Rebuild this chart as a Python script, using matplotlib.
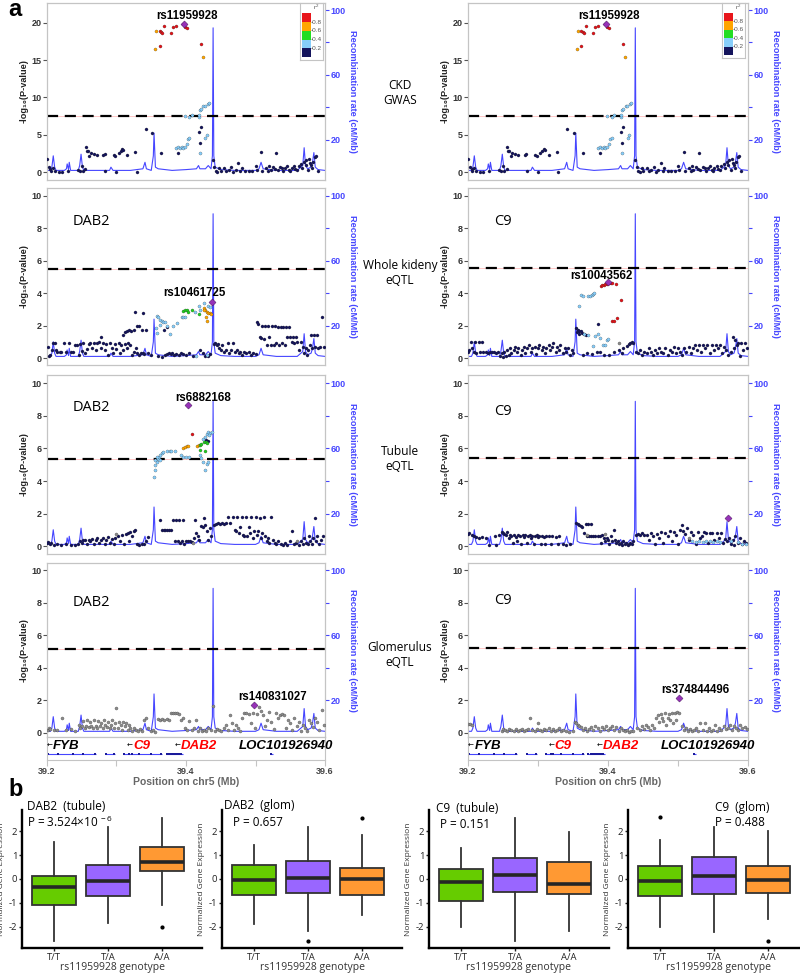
import numpy as np
import matplotlib.pyplot as plt

plt.rcParams['font.family'] = ['Liberation Sans', 'DejaVu Sans']
plt.rcParams['mathtext.default'] = 'regular'
plt.rcParams['axes.unicode_minus'] = False

# recombination rate (cM/Mb) along chr5, same in every panel
recomb = [(39.200, 1), (39.205, 1), (39.207, 3), (39.209, 10), (39.211, 3), (39.213, 1),
          (39.225, 1), (39.228, 2), (39.229, 5), (39.231, 1.5), (39.232, 6), (39.234, 1),
          (39.245, 1), (39.247, 4), (39.249, 11), (39.251, 3), (39.253, 1), (39.290, 1),
          (39.292, 3), (39.295, 1), (39.320, 1), (39.338, 2), (39.341, 6), (39.343, 2),
          (39.350, 1), (39.353, 10), (39.354, 24), (39.356, 3), (39.360, 2), (39.380, 1),
          (39.400, 1.5), (39.415, 2), (39.418, 4), (39.420, 2), (39.428, 2), (39.432, 4),
          (39.436, 2), (39.438, 10), (39.439, 89), (39.440, 10), (39.442, 3), (39.450, 1.5),
          (39.470, 1), (39.500, 1), (39.505, 2), (39.508, 6), (39.511, 2), (39.530, 1),
          (39.560, 1), (39.568, 4), (39.570, 15), (39.572, 4), (39.575, 2), (39.580, 3),
          (39.582, 6), (39.584, 12), (39.586, 3), (39.590, 1.5), (39.600, 1)]

# ---- CKD GWAS (same in both columns)
gwas_navy = [(39.200, 1.7), (39.203, 0.7), (39.205, 0.4), (39.206, 0.2), (39.208, 0.6), (39.211, 0.1),
             (39.217, 0.05), (39.222, 0.05), (39.230, 0.1), (39.245, 0.3), (39.247, 0.1), (39.250, 0.8),
             (39.252, 0.2), (39.255, 0.35), (39.256, 3.4), (39.257, 2.8), (39.259, 2.8), (39.261, 2.1),
             (39.263, 2.5), (39.267, 2.4), (39.272, 2.3), (39.281, 2.3), (39.283, 2.4), (39.284, 0.2),
             (39.296, 2.3), (39.298, 2.1), (39.300, 0.05), (39.303, 2.5), (39.306, 2.8), (39.308, 3.1),
             (39.310, 3.0), (39.315, 2.3), (39.327, 2.7), (39.329, 0.05), (39.342, 5.8), (39.351, 5.3),
             (39.364, 2.5), (39.388, 2.5), (39.418, 5.4), (39.420, 3.9), (39.422, 6.0), (39.439, 1.6),
             (39.441, 0.7), (39.443, 0.2), (39.445, 0.0), (39.448, 0.5), (39.450, 0.1), (39.455, 0.6),
             (39.458, 0.1), (39.462, 0.3), (39.465, 0.7), (39.468, 0.05), (39.472, 0.3), (39.475, 1.2),
             (39.478, 0.2), (39.480, 0.5), (39.485, 0.2), (39.490, 0.2), (39.495, 0.1), (39.500, 0.8),
             (39.502, 0.3), (39.508, 2.7), (39.510, 0.2), (39.515, 0.6), (39.518, 0.2), (39.520, 0.8),
             (39.522, 0.3), (39.525, 0.7), (39.528, 0.4), (39.530, 2.6), (39.532, 0.3), (39.535, 0.7),
             (39.538, 0.5), (39.540, 0.2), (39.543, 0.6), (39.545, 0.8), (39.548, 0.3), (39.550, 0.2),
             (39.552, 0.6), (39.555, 0.8), (39.557, 0.4), (39.560, 0.3), (39.562, 0.8), (39.565, 1.1),
             (39.567, 0.5), (39.570, 1.4), (39.572, 0.9), (39.573, 1.6), (39.575, 0.3), (39.577, 1.8),
             (39.578, 1.2), (39.580, 1.0), (39.582, 0.5), (39.583, 1.4), (39.585, 2.0), (39.587, 2.2),
             (39.590, 0.2)]
gwas_lblue = [(39.386, 3.2), (39.389, 3.3), (39.391, 3.2), (39.394, 3.3), (39.396, 3.2), (39.399, 3.3),
              (39.401, 3.7), (39.403, 4.4), (39.405, 4.6), (39.398, 7.5), (39.405, 7.4), (39.409, 7.7),
              (39.418, 7.4), (39.419, 7.7), (39.420, 8.3), (39.422, 8.5), (39.425, 8.8), (39.427, 8.9),
              (39.431, 9.1), (39.433, 9.3), (39.420, 2.6), (39.428, 4.5), (39.430, 5.0)]
gwas_orange = [(39.356, 16.5), (39.357, 18.9), (39.424, 15.4)]
gwas_red = [(39.362, 16.9), (39.362, 18.9), (39.364, 18.8), (39.366, 18.6), (39.369, 19.55), (39.379, 18.7),
            (39.382, 19.5), (39.385, 19.6), (39.395, 19.9), (39.399, 19.5), (39.401, 19.3), (39.422, 17.2)]
gwas_lead = (39.397, 19.8)

# ---- whole kidney eQTL, DAB2
kd_navy = [(39.201, 0.7), (39.203, 0.15), (39.205, 0.2), (39.207, 0.5), (39.209, 0.9), (39.211, 0.95),
           (39.213, 0.5), (39.215, 0.4), (39.218, 0.4), (39.220, 0.35), (39.225, 0.9), (39.228, 0.35),
           (39.232, 0.9), (39.235, 0.35), (39.238, 0.4), (39.240, 0.8), (39.243, 0.8), (39.246, 0.2),
           (39.248, 0.85), (39.250, 0.45), (39.252, 0.9), (39.255, 0.3), (39.258, 0.55), (39.260, 0.85),
           (39.262, 0.9), (39.265, 0.6), (39.268, 0.9), (39.270, 0.5), (39.272, 0.95), (39.275, 1.0),
           (39.277, 0.6), (39.278, 1.3), (39.280, 0.9), (39.283, 0.5), (39.285, 0.85), (39.288, 0.2),
           (39.290, 0.95), (39.293, 0.6), (39.295, 0.3), (39.298, 0.85), (39.300, 0.55), (39.303, 0.9),
           (39.305, 0.3), (39.307, 0.8), (39.310, 0.5), (39.312, 0.85), (39.315, 0.6), (39.317, 0.9),
           (39.320, 0.8), (39.322, 0.2), (39.325, 0.4), (39.328, 0.6), (39.330, 0.3), (39.333, 0.2),
           (39.335, 0.3), (39.338, 0.3), (39.340, 0.25), (39.345, 0.3), (39.350, 0.2),
           (39.309, 1.45), (39.312, 1.6), (39.315, 1.65), (39.318, 1.7), (39.321, 1.65), (39.325, 1.7),
           (39.326, 2.85), (39.330, 2.0), (39.333, 1.95), (39.336, 1.7), (39.338, 2.75), (39.342, 1.7),
           (39.360, 0.1), (39.365, 0.05), (39.370, 0.2), (39.372, 0.25), (39.375, 0.3), (39.378, 0.25),
           (39.380, 0.3), (39.383, 0.2), (39.386, 0.25), (39.390, 0.2), (39.393, 0.3), (39.396, 0.25),
           (39.400, 0.2), (39.405, 0.3), (39.410, 0.1), (39.420, 0.5), (39.425, 0.3), (39.428, 0.1),
           (39.431, 0.15), (39.434, 0.25), (39.372, 1.9), (39.368, 1.75),
           (39.440, 0.85), (39.442, 0.9), (39.444, 0.8), (39.446, 0.85), (39.448, 0.6), (39.450, 0.5),
           (39.452, 0.8), (39.455, 0.4), (39.458, 0.5), (39.460, 0.9), (39.462, 0.3), (39.465, 0.5),
           (39.468, 0.9), (39.470, 0.35), (39.473, 0.5), (39.476, 0.3), (39.478, 0.4), (39.480, 0.2),
           (39.483, 0.35), (39.486, 0.3), (39.490, 0.4), (39.493, 0.2), (39.496, 0.3), (39.500, 0.25),
           (39.502, 2.2), (39.504, 2.1), (39.506, 1.3), (39.508, 1.25), (39.510, 2.0), (39.512, 1.2),
           (39.514, 2.0), (39.516, 0.8), (39.518, 2.0), (39.520, 1.3), (39.522, 0.8), (39.524, 2.0),
           (39.526, 0.8), (39.528, 2.0), (39.530, 0.9), (39.532, 1.9), (39.534, 0.8), (39.536, 1.9),
           (39.538, 0.9), (39.540, 1.9), (39.542, 0.8), (39.544, 1.9), (39.546, 1.3), (39.548, 1.9),
           (39.550, 1.3), (39.552, 1.0), (39.554, 1.3), (39.556, 0.9), (39.558, 1.3), (39.560, 1.0),
           (39.562, 0.5), (39.565, 1.0), (39.568, 0.7), (39.570, 0.3), (39.572, 0.6), (39.574, 0.2),
           (39.576, 0.5), (39.578, 0.8), (39.580, 1.4), (39.582, 0.6), (39.584, 1.4), (39.586, 0.7),
           (39.588, 1.4), (39.590, 0.6), (39.593, 0.7), (39.595, 2.55), (39.598, 0.7)]
kd_lblue = [(39.358, 2.61), (39.360, 2.53), (39.362, 2.36), (39.365, 2.26), (39.367, 2.2), (39.370, 2.2),
            (39.357, 1.85), (39.358, 1.54), (39.363, 2.05), (39.372, 1.95), (39.377, 1.5), (39.382, 1.95),
            (39.387, 2.16), (39.394, 2.53), (39.395, 2.53), (39.398, 2.53), (39.413, 2.87), (39.419, 3.18),
            (39.426, 3.39), (39.432, 3.18), (39.434, 3.12), (39.420, 2.94), (39.415, 0.1), (39.430, 0.2)]
kd_green = [(39.396, 2.92), (39.398, 2.94), (39.401, 2.94), (39.403, 2.87), (39.408, 2.94), (39.418, 2.7)]
kd_orange = [(39.426, 3.08), (39.428, 2.98), (39.430, 2.87), (39.432, 2.77), (39.429, 2.52), (39.430, 2.26),
             (39.434, 2.77), (39.436, 2.73), (39.426, 2.94)]
kd_lead = (39.437, 3.43)

# ---- whole kidney eQTL, C9
kc_navy = [(39.200, 0.4), (39.202, 0.5), (39.204, 1.0), (39.206, 0.6), (39.208, 0.4), (39.210, 1.0),
           (39.212, 0.3), (39.215, 1.0), (39.217, 0.4), (39.220, 1.0), (39.222, 0.35), (39.225, 0.4),
           (39.228, 0.3), (39.231, 0.4), (39.234, 0.35), (39.237, 0.4), (39.240, 0.3), (39.243, 0.4),
           (39.246, 0.1), (39.248, 0.3), (39.250, 0.05), (39.252, 0.4), (39.254, 0.1), (39.256, 0.5),
           (39.258, 0.2), (39.260, 0.6), (39.262, 0.3), (39.265, 0.5), (39.267, 0.7), (39.270, 0.35),
           (39.272, 0.6), (39.275, 0.2), (39.277, 0.5), (39.280, 0.7), (39.282, 0.3), (39.285, 0.6),
           (39.287, 0.8), (39.290, 0.4), (39.292, 0.6), (39.295, 0.7), (39.297, 0.25), (39.300, 0.6),
           (39.302, 0.8), (39.305, 0.5), (39.307, 0.7), (39.310, 0.3), (39.312, 0.6), (39.315, 0.8),
           (39.317, 0.5), (39.320, 0.7), (39.322, 0.9), (39.325, 0.4), (39.327, 0.7), (39.330, 0.5),
           (39.332, 0.8), (39.335, 0.3), (39.338, 0.6), (39.340, 0.4), (39.343, 0.6), (39.345, 0.2),
           (39.348, 0.5), (39.350, 0.3),
           (39.355, 1.84), (39.357, 1.74), (39.359, 1.68), (39.361, 1.64), (39.363, 1.54), (39.366, 1.48),
           (39.368, 1.43), (39.356, 1.6), (39.358, 1.5), (39.386, 2.09), (39.364, 0.2), (39.370, 0.3),
           (39.377, 0.25), (39.384, 0.35), (39.389, 0.4), (39.394, 0.2), (39.401, 0.2), (39.408, 0.4),
           (39.415, 0.5), (39.422, 0.6), (39.427, 0.75), (39.430, 0.85), (39.432, 0.95), (39.434, 1.0),
           (39.436, 0.9), (39.420, 0.3),
           (39.440, 0.4), (39.443, 0.3), (39.446, 0.5), (39.449, 0.2), (39.452, 0.4), (39.455, 0.3),
           (39.458, 0.6), (39.461, 0.4), (39.464, 0.2), (39.467, 0.5), (39.470, 0.3), (39.473, 0.6),
           (39.476, 0.4), (39.479, 0.3), (39.482, 0.6), (39.485, 0.2), (39.488, 0.5), (39.491, 0.4),
           (39.494, 0.7), (39.497, 0.3), (39.500, 0.6), (39.503, 0.4), (39.506, 0.2), (39.509, 0.6),
           (39.512, 0.4), (39.515, 0.7), (39.518, 0.3), (39.521, 0.6), (39.524, 0.8), (39.527, 0.5),
           (39.530, 0.8), (39.533, 0.4), (39.536, 0.8), (39.539, 0.6), (39.542, 0.8), (39.545, 0.3),
           (39.548, 0.8), (39.551, 0.5), (39.554, 0.8), (39.557, 0.6), (39.560, 0.8), (39.563, 0.3),
           (39.566, 0.7), (39.569, 0.5), (39.572, 0.2), (39.575, 0.4), (39.578, 1.3), (39.580, 0.6),
           (39.582, 1.1), (39.584, 0.8), (39.586, 0.9), (39.588, 0.1), (39.590, 0.9), (39.593, 0.5),
           (39.596, 0.9), (39.599, 0.6)]
kc_lblue = [(39.359, 3.22), (39.361, 3.89), (39.364, 3.83), (39.371, 3.83), (39.374, 3.83), (39.377, 3.89),
            (39.378, 3.95), (39.380, 4.04), (39.371, 1.43), (39.378, 0.76), (39.381, 1.39), (39.385, 1.48),
            (39.388, 1.23), (39.393, 0.82), (39.396, 0.82), (39.398, 1.09), (39.400, 1.15), (39.366, 1.5)]
kc_red = [(39.390, 4.45), (39.392, 4.49), (39.394, 4.53), (39.396, 4.57), (39.398, 4.59), (39.402, 4.61),
          (39.404, 4.61), (39.406, 4.61), (39.412, 4.59), (39.418, 3.6), (39.405, 2.3), (39.408, 2.3),
          (39.413, 2.5)]
kc_gray = [(39.416, 0.95)]
kc_lead = (39.400, 4.67)

# ---- tubule eQTL, DAB2
td_navy = [(39.200, 0.2), (39.202, 0.25), (39.204, 0.1), (39.206, 0.2), (39.210, 0.05), (39.215, 0.1),
           (39.220, 0.05), (39.228, 0.1), (39.235, 0.05), (39.240, 0.05), (39.245, 0.1), (39.248, 0.3),
           (39.250, 0.2), (39.252, 0.35), (39.255, 0.4), (39.257, 0.15), (39.260, 0.4), (39.262, 0.3),
           (39.265, 0.45), (39.268, 0.1), (39.270, 0.35), (39.272, 0.5), (39.275, 0.2), (39.278, 0.4),
           (39.280, 0.5), (39.283, 0.1), (39.285, 0.4), (39.288, 0.55), (39.290, 0.2), (39.293, 0.45),
           (39.296, 0.1), (39.298, 0.5), (39.302, 0.6), (39.305, 0.3), (39.308, 0.7), (39.311, 0.1),
           (39.313, 0.75), (39.316, 0.8), (39.318, 0.3), (39.320, 0.85), (39.322, 0.6), (39.325, 0.95),
           (39.327, 1.0), (39.330, 0.1), (39.333, 0.05), (39.336, 0.1), (39.340, 0.1), (39.343, 0.3),
           (39.346, 0.55),
           (39.363, 1.6), (39.366, 1.0), (39.368, 1.0), (39.370, 1.0), (39.373, 1.0), (39.376, 1.0),
           (39.379, 1.0), (39.381, 1.6), (39.385, 1.6), (39.390, 1.6), (39.395, 1.6), (39.384, 0.3),
           (39.388, 0.3), (39.391, 0.2), (39.394, 0.3), (39.397, 0.1), (39.400, 0.3), (39.403, 0.3),
           (39.406, 0.3), (39.409, 0.25), (39.412, 0.5), (39.413, 1.6), (39.415, 0.8), (39.417, 0.6),
           (39.419, 0.35), (39.421, 1.25), (39.424, 1.2), (39.426, 1.7), (39.428, 1.3), (39.430, 0.9),
           (39.432, 0.4), (39.434, 1.1), (39.436, 0.6), (39.429, 6.5), (39.431, 6.46),
           (39.440, 1.3), (39.443, 1.35), (39.446, 1.4), (39.449, 1.35), (39.452, 1.4), (39.455, 1.35),
           (39.458, 1.4), (39.461, 1.8), (39.464, 1.4), (39.467, 1.8), (39.470, 1.0), (39.472, 0.9),
           (39.474, 1.8), (39.476, 0.8), (39.478, 1.2), (39.480, 1.8), (39.482, 0.7), (39.484, 0.6),
           (39.486, 1.8), (39.488, 0.6), (39.490, 1.2), (39.492, 0.8), (39.494, 1.8), (39.496, 0.5),
           (39.498, 0.9), (39.500, 1.8), (39.502, 0.7), (39.504, 0.9), (39.506, 1.7), (39.508, 0.5),
           (39.510, 0.8), (39.512, 1.8), (39.514, 0.6), (39.516, 0.3), (39.518, 0.5), (39.520, 0.2),
           (39.523, 1.8), (39.525, 0.4), (39.528, 0.2), (39.530, 0.1), (39.533, 0.3), (39.536, 0.1),
           (39.540, 0.05), (39.543, 0.2), (39.546, 0.05), (39.549, 0.3), (39.552, 0.9), (39.555, 0.1),
           (39.558, 0.2), (39.562, 0.05), (39.565, 0.3), (39.568, 0.1), (39.570, 0.5), (39.572, 0.2),
           (39.575, 0.1), (39.577, 0.6), (39.579, 0.3), (39.581, 0.1), (39.583, 0.5), (39.585, 1.7),
           (39.587, 0.3), (39.589, 0.6), (39.591, 0.1), (39.594, 0.4), (39.597, 0.6)]
td_lblue = [(39.354, 4.25), (39.355, 4.66), (39.356, 4.96), (39.358, 5.17), (39.360, 5.37), (39.361, 5.48),
            (39.363, 5.58), (39.365, 5.72), (39.367, 5.78), (39.372, 5.83), (39.377, 5.83), (39.379, 5.83),
            (39.384, 5.87), (39.393, 5.58), (39.396, 5.48), (39.400, 5.48), (39.405, 5.48), (39.420, 5.58),
            (39.422, 5.42), (39.424, 5.17), (39.427, 4.70), (39.430, 5.07), (39.432, 5.17), (39.430, 6.91),
            (39.432, 7.02), (39.434, 6.97), (39.437, 7.02), (39.433, 6.81), (39.425, 6.6), (39.427, 6.7),
            (39.356, 5.3), (39.358, 5.5), (39.362, 5.3)]
td_green = [(39.420, 6.2), (39.422, 6.3), (39.426, 6.38), (39.429, 6.4), (39.430, 6.36), (39.420, 5.93),
            (39.428, 5.85)]
td_orange = [(39.396, 6.05), (39.398, 6.09), (39.401, 6.13), (39.403, 6.15), (39.416, 6.15), (39.419, 6.24)]
td_red = [(39.408, 6.9)]
td_gray = [(39.300, 0.75), (39.410, 0.2), (39.560, 0.3)]
td_lead = (39.403, 8.66)

# ---- tubule eQTL, C9
tc_navy = [(39.200, 0.75), (39.202, 0.8), (39.205, 0.7), (39.208, 0.6), (39.212, 0.55), (39.215, 0.5),
           (39.220, 0.55), (39.225, 0.5), (39.230, 0.05), (39.238, 0.6), (39.240, 0.05), (39.245, 0.7),
           (39.248, 0.85), (39.250, 0.8), (39.252, 0.75), (39.254, 0.7), (39.256, 0.85), (39.258, 0.5),
           (39.260, 0.7), (39.262, 0.6), (39.264, 0.2), (39.266, 0.7), (39.268, 0.55), (39.270, 0.3),
           (39.272, 0.65), (39.274, 0.6), (39.276, 0.15), (39.278, 0.7), (39.280, 0.55), (39.282, 0.65),
           (39.284, 0.2), (39.286, 0.6), (39.288, 0.7), (39.290, 0.5), (39.292, 0.6), (39.294, 0.15),
           (39.296, 0.6), (39.298, 0.7), (39.300, 0.55), (39.302, 0.6), (39.304, 0.1), (39.306, 0.6),
           (39.308, 0.55), (39.310, 0.1), (39.312, 0.6), (39.315, 0.6), (39.318, 0.1), (39.320, 0.6),
           (39.325, 0.55), (39.328, 0.1), (39.330, 0.6), (39.335, 0.1), (39.340, 0.05), (39.345, 0.1),
           (39.355, 1.4), (39.357, 1.35), (39.359, 1.3), (39.361, 1.25), (39.363, 1.2), (39.365, 0.8),
           (39.368, 1.35), (39.372, 1.35), (39.376, 1.35), (39.370, 0.6), (39.373, 0.6), (39.376, 0.6),
           (39.379, 0.6), (39.382, 0.6), (39.385, 0.6), (39.388, 0.6), (39.390, 0.2), (39.392, 0.7),
           (39.394, 0.5), (39.396, 0.3), (39.398, 0.5), (39.400, 0.35), (39.402, 0.1), (39.404, 0.6),
           (39.406, 0.3), (39.408, 1.0), (39.410, 0.4), (39.412, 0.2), (39.414, 0.3), (39.416, 0.15),
           (39.418, 0.2), (39.420, 0.05), (39.422, 0.3), (39.424, 0.1), (39.426, 0.2), (39.428, 0.05),
           (39.430, 0.1), (39.432, 0.2), (39.434, 0.1), (39.436, 0.3),
           (39.440, 0.7), (39.443, 0.75), (39.446, 0.7), (39.449, 0.8), (39.452, 0.65), (39.455, 0.7),
           (39.458, 0.4), (39.461, 0.8), (39.464, 0.6), (39.467, 0.1), (39.470, 0.75), (39.473, 0.5),
           (39.476, 0.85), (39.479, 0.2), (39.482, 0.8), (39.485, 0.6), (39.488, 0.9), (39.491, 0.3),
           (39.494, 0.85), (39.497, 0.7), (39.500, 0.1), (39.503, 1.0), (39.505, 1.3), (39.507, 0.9),
           (39.510, 0.75), (39.513, 1.1), (39.516, 0.4), (39.519, 0.85), (39.522, 0.7), (39.525, 0.1),
           (39.528, 0.85), (39.531, 0.5), (39.534, 0.6), (39.537, 0.85), (39.540, 0.8), (39.543, 0.2),
           (39.546, 0.8), (39.549, 0.8), (39.552, 0.4), (39.555, 0.8), (39.558, 0.5), (39.561, 0.8),
           (39.564, 0.2), (39.567, 0.45), (39.570, 0.3), (39.573, 0.5), (39.576, 0.1), (39.578, 0.4),
           (39.580, 0.05), (39.582, 0.6), (39.585, 0.2), (39.588, 0.5), (39.591, 0.1), (39.594, 0.3),
           (39.597, 0.2)]
tc_lblue = [(39.520, 0.3), (39.525, 0.25), (39.530, 0.3), (39.535, 0.25), (39.540, 0.3), (39.545, 0.3),
            (39.550, 0.25), (39.555, 0.3), (39.560, 0.25), (39.575, 0.3), (39.585, 0.25), (39.592, 0.1),
            (39.597, 0.15)]
tc_gray = [(39.370, 0.7), (39.395, 0.75), (39.515, 0.5)]
tc_lead = (39.571, 1.75)

# ---- glomerulus eQTL, DAB2 (no LD information: grey)
gd_gray = [(39.201, 0.2), (39.203, 0.3), (39.205, 0.25), (39.210, 0.2), (39.215, 0.2), (39.221, 0.9),
           (39.228, 0.2), (39.235, 0.25), (39.240, 0.1), (39.246, 0.5), (39.248, 0.3), (39.250, 0.4),
           (39.252, 0.75), (39.254, 0.3), (39.256, 0.45), (39.258, 0.8), (39.260, 0.35), (39.262, 0.7),
           (39.264, 0.4), (39.266, 0.3), (39.268, 0.8), (39.270, 0.45), (39.272, 0.3), (39.274, 0.75),
           (39.276, 0.4), (39.278, 0.6), (39.280, 0.3), (39.282, 0.8), (39.284, 0.5), (39.286, 0.35),
           (39.288, 0.7), (39.290, 0.3), (39.292, 0.5), (39.294, 0.8), (39.296, 0.3), (39.298, 0.6),
           (39.300, 1.55), (39.302, 0.3), (39.304, 0.7), (39.306, 0.5), (39.308, 0.2), (39.310, 0.7),
           (39.312, 0.4), (39.314, 0.6), (39.316, 0.2), (39.318, 0.5), (39.320, 0.3), (39.322, 0.1),
           (39.325, 0.3), (39.328, 0.2), (39.331, 0.1), (39.334, 0.25), (39.337, 0.1), (39.340, 0.8),
           (39.342, 0.9), (39.345, 0.3), (39.350, 0.1), (39.353, 0.2), (39.356, 0.05), (39.360, 0.85),
           (39.363, 0.8), (39.366, 0.85), (39.369, 0.8), (39.372, 0.85), (39.375, 0.8), (39.378, 1.2),
           (39.381, 1.2), (39.384, 1.2), (39.387, 1.2), (39.390, 1.15), (39.393, 0.8), (39.396, 0.9),
           (39.399, 0.3), (39.402, 0.2), (39.405, 0.75), (39.408, 0.2), (39.411, 0.3), (39.414, 0.8),
           (39.417, 0.1), (39.420, 0.3), (39.423, 0.1), (39.426, 0.2), (39.429, 0.15), (39.432, 0.3),
           (39.436, 0.2), (39.439, 1.65),
           (39.442, 0.1), (39.445, 0.25), (39.448, 0.2), (39.451, 0.1), (39.454, 0.3), (39.457, 0.5),
           (39.460, 0.2), (39.463, 1.1), (39.466, 0.6), (39.469, 0.2), (39.472, 0.5), (39.475, 0.3),
           (39.478, 0.1), (39.481, 0.9), (39.484, 1.2), (39.487, 1.2), (39.490, 1.15), (39.493, 0.6),
           (39.496, 1.2), (39.499, 0.3), (39.502, 1.15), (39.505, 1.6), (39.508, 1.35), (39.511, 1.1),
           (39.514, 0.4), (39.517, 0.8), (39.520, 1.3), (39.523, 0.7), (39.526, 0.25), (39.529, 1.2),
           (39.532, 0.9), (39.535, 1.1), (39.538, 1.15), (39.541, 1.1), (39.544, 0.3), (39.547, 0.8),
           (39.550, 0.6), (39.553, 0.2), (39.556, 0.9), (39.559, 0.4), (39.562, 0.7), (39.565, 0.1),
           (39.568, 0.5), (39.571, 0.3), (39.574, 0.15), (39.577, 0.8), (39.580, 0.6), (39.583, 0.35),
           (39.586, 0.9), (39.589, 0.7), (39.592, 0.2), (39.595, 1.4), (39.598, 0.5)]
gd_lead = (39.498, 1.74)

# ---- glomerulus eQTL, C9
gc_gray = [(39.200, 0.55), (39.203, 0.55), (39.206, 0.5), (39.248, 0.15), (39.250, 0.25), (39.253, 0.2),
           (39.256, 0.1), (39.259, 0.25), (39.262, 0.2), (39.265, 0.15), (39.268, 0.25), (39.271, 0.1),
           (39.274, 0.2), (39.277, 0.25), (39.280, 0.1), (39.283, 0.2), (39.286, 0.25), (39.289, 0.95),
           (39.292, 0.2), (39.295, 0.15), (39.298, 0.25), (39.300, 0.6), (39.303, 0.2), (39.306, 0.1),
           (39.309, 0.25), (39.312, 0.2), (39.315, 0.3), (39.318, 0.15), (39.321, 0.25), (39.324, 0.1),
           (39.327, 0.2), (39.330, 0.3), (39.333, 0.15), (39.336, 0.2), (39.340, 0.1), (39.344, 0.05),
           (39.350, 0.1), (39.353, 0.65), (39.355, 0.6), (39.357, 0.5), (39.359, 0.45), (39.361, 0.35),
           (39.364, 0.2), (39.367, 0.3), (39.370, 0.1), (39.373, 0.25), (39.376, 0.35), (39.379, 0.2),
           (39.382, 0.4), (39.385, 0.3), (39.388, 0.15), (39.391, 0.35), (39.394, 0.25), (39.397, 0.4),
           (39.400, 0.2), (39.403, 0.3), (39.406, 0.45), (39.409, 0.2), (39.412, 0.35), (39.415, 0.1),
           (39.418, 0.3), (39.421, 0.2), (39.424, 0.1), (39.427, 0.2), (39.430, 0.05), (39.433, 0.15),
           (39.436, 0.1),
           (39.442, 0.3), (39.445, 0.2), (39.448, 0.4), (39.451, 0.25), (39.454, 0.5), (39.457, 0.35),
           (39.460, 0.2), (39.463, 0.5), (39.466, 0.3), (39.469, 0.9), (39.471, 1.1), (39.473, 0.7),
           (39.475, 1.15), (39.477, 0.9), (39.479, 0.75), (39.481, 1.2), (39.483, 0.5), (39.485, 0.9),
           (39.487, 1.15), (39.489, 0.8), (39.491, 1.2), (39.493, 0.6), (39.495, 1.25), (39.497, 0.8),
           (39.499, 1.3), (39.502, 1.2), (39.505, 0.4), (39.508, 0.2), (39.511, 0.3), (39.514, 0.15),
           (39.517, 0.25), (39.520, 0.1), (39.523, 0.2), (39.526, 0.3), (39.529, 0.15), (39.532, 0.6),
           (39.535, 0.2), (39.538, 0.6), (39.541, 0.15), (39.544, 0.3), (39.547, 0.1), (39.550, 0.2),
           (39.553, 0.5), (39.556, 0.15), (39.559, 0.3), (39.562, 0.2), (39.565, 0.4), (39.568, 0.25),
           (39.571, 0.3), (39.574, 0.5), (39.577, 0.2), (39.580, 0.4), (39.583, 0.3), (39.586, 0.2),
           (39.589, 0.5), (39.592, 0.3), (39.595, 0.35), (39.598, 0.25)]
gc_lead = (39.501, 2.14)

# genes in the region
gene_names = ['FYB', 'C9', 'DAB2', 'LOC101926940']
gene_label_x = [39.209, 39.324, 39.393, 39.476]
gene_colors = ['black', 'red', 'red', 'black']
gene_arrow = [True, True, True, False]
gene_spans = [(39.200, 39.270), (39.284, 39.298), (39.310, 39.365), (39.371, 39.395), (39.521, 39.525)]
gene_exons = [39.201, 39.216, 39.237, 39.252, 39.269, 39.285, 39.297, 39.311, 39.318, 39.322, 39.333,
              39.350, 39.364, 39.372, 39.375, 39.378, 39.381, 39.384, 39.387, 39.390, 39.393, 39.523]

# r2 legend
r2_edges = [0.0, 0.2, 0.4, 0.6, 0.8]
r2_colors = ['#14145c', '#87cefa', '#22dd22', '#ffa500', '#e8161b']

# boxplots: (whisker low, Q1, median, Q3, whisker high) for T/T, T/A, A/A
genotypes = ['T/T', 'T/A', 'A/A']
dab2_tub = [(-2.6, -1.08, -0.33, 0.12, 1.57), (-1.86, -0.72, -0.08, 0.6, 2.17), (-1.1, 0.32, 0.73, 1.33, 2.58)]
dab2_tub_out = [[], [], [-2.02]]
dab2_glom = [(-1.88, -0.69, -0.06, 0.58, 1.44), (-2.2, -0.58, 0.03, 0.76, 2.17), (-1.53, -0.69, 0.0, 0.46, 1.83)]
dab2_glom_out = [[], [-2.6], [2.58]]
c9_tub = [(-2.0, -0.93, -0.14, 0.42, 1.3), (-2.6, -0.53, 0.15, 0.9, 2.58), (-2.2, -0.64, -0.19, 0.73, 1.97)]
c9_tub_out = [[], [], []]
c9_glom = [(-2.0, -0.7, -0.1, 0.55, 1.63), (-2.22, -0.62, 0.11, 0.93, 2.2), (-1.7, -0.58, -0.03, 0.55, 2.0)]
c9_glom_out = [[2.6], [], [-2.6]]

BLUE = '#4646ff'
FRAME = '#c4c4c4'
LD = {'navy': '#14145c', 'lblue': '#87cefa', 'green': '#22cc22', 'orange': '#ffa500',
      'red': '#e0161b', 'gray': '#8c8c8c'}
BOX_COLORS = ['#66cc00', '#9966ff', '#ff9933']
OPEN = ['Open Sans', 'DejaVu Sans']

W, H = 800, 976
fig = plt.figure(figsize=(8, 9.76), dpi=100)


def px(x0, y0, x1, y1):
    return [x0 / W, 1 - y1 / H, (x1 - x0) / W, (y1 - y0) / H]


COLS = [(47, 325), (468, 748)]
# top, bottom, ymin, ymax, recomb scale, ticks
ROWS = [(3, 180, -1.07, 22.68, 4.6, [0, 5, 10, 15, 20]),
        (188, 365, -0.43, 10.49, 10, [0, 2, 4, 6, 8, 10]),
        (375, 554, -0.49, 10.52, 10, [0, 2, 4, 6, 8, 10]),
        (563, 737, -0.25, 10.46, 10, [0, 2, 4, 6, 8, 10])]


def locus(col, row, groups, lead, lead_txt, txt_xy, sig, gene=None, gene_y=None):
    x0, x1 = COLS[col]
    y0, y1, ymin, ymax, scale, ticks = ROWS[row]
    ax = fig.add_axes(px(x0, y0, x1, y1))
    ax2 = ax.twinx()
    rx, ry = np.array(recomb).T
    ax2.plot(rx, ry, color=BLUE, lw=0.8)
    ax2.set_ylim(ymin * scale, ymax * scale)
    ax2.set_yticks([20, 40, 60, 80, 100])
    ax2.set_yticklabels(['20', '', '60', '', '100'])
    ax2.tick_params(axis='y', colors=BLUE, labelsize=6.5, length=3, pad=1)
    for t in ax2.get_yticklabels():
        t.set_fontweight('bold')
    ax2.set_ylabel('Recombination rate (cM/Mb)', rotation=270, color=BLUE, fontsize=6.6,
                   fontweight='bold', labelpad=8)
    ax.set_zorder(ax2.get_zorder() + 1)
    ax.patch.set_visible(False)

    ax.axhline(sig, color='#ff8080', lw=0.5, alpha=0.6, zorder=1)
    ax.axhline(sig, color='black', lw=1.6, ls=(0, (5, 3)), zorder=2)
    for name, pts in groups:
        x, y = np.array(pts).T
        ax.scatter(x, y, s=5, color=LD[name], edgecolors='#202020', linewidths=0.15, zorder=3)
    ax.scatter([lead[0]], [lead[1]], marker='D', s=13, color='#9632b8', edgecolors='#3c0a50',
               linewidths=0.3, zorder=4)
    if lead_txt:
        ax.text(txt_xy[0], txt_xy[1], lead_txt, ha='center', va='center', fontsize=8.3,
                fontweight='bold', zorder=5)
    if gene:
        ax.text(39.237, gene_y, gene, fontsize=10.5, family=OPEN, va='center', ha='left')

    ax.set_xlim(39.2, 39.6)
    ax.set_ylim(ymin, ymax)
    ax.set_yticks(ticks)
    ax.set_xticks([])
    ax.tick_params(axis='y', colors='#555555', labelsize=6.5, length=3, pad=1)
    for t in ax.get_yticklabels():
        t.set_fontweight('bold')
        t.set_color('#333333')
    ax.set_ylabel('-log\u2081\u2080(P-value)', fontsize=6.6, fontweight='bold', labelpad=2,
                  color='#222222')
    for a in (ax, ax2):
        for s in a.spines.values():
            s.set_color(FRAME)
            s.set_linewidth(0.8)
    return ax


def r2_legend(x0, x1, y0, y1):
    lg = fig.add_axes(px(x0, y0, x1, y1))
    lg.bar(0.28, 0.2, width=0.36, bottom=r2_edges, color=r2_colors, align='center')
    lg.set_xlim(0, 1)
    lg.set_ylim(-0.065, 1.234)
    for v in r2_edges[1:]:
        lg.text(0.47, v, '-' + str(v), fontsize=4.6, color='#555555', va='center', ha='left')
    lg.text(0.72, 1.13, 'r$^2$', fontsize=4.5, color='#555555', ha='center', va='center')
    lg.set_xticks([])
    lg.set_yticks([])
    for s in lg.spines.values():
        s.set_color(FRAME)
        s.set_linewidth(0.8)


def gene_track(col):
    x0, x1 = COLS[col]
    ax = fig.add_axes(px(x0, 737, x1, 760))
    for a, b in gene_spans:
        ax.hlines(0.26, a, b, color=BLUE, lw=0.8)
    ax.plot(gene_exons, [0.26] * len(gene_exons), 's', color='#1a1a9a', ms=2.0, mew=0)
    for name, gx, c, arr in zip(gene_names, gene_label_x, gene_colors, gene_arrow):
        if arr:
            ax.text(gx - 0.001, 0.62, '\u2190', fontsize=5, ha='right', va='center', color='black',
                    family=['DejaVu Sans'])
        ax.text(gx, 0.62, name, fontsize=9.5, fontweight='bold', style='italic', color=c,
                ha='left', va='center')
    ax.set_xlim(39.2, 39.6)
    ax.set_ylim(0, 1)
    ax.set_yticks([])
    ax.set_xticks([39.2, 39.3, 39.4, 39.5, 39.6])
    ax.set_xticklabels(['39.2', '', '39.4', '', '39.6'])
    ax.tick_params(axis='x', colors=FRAME, labelsize=6.5, length=4, pad=1)
    for t in ax.get_xticklabels():
        t.set_fontweight('bold')
        t.set_color('#444444')
    ax.set_xlabel('Position on chr5 (Mb)', fontsize=7.5, fontweight='bold', color='#666666',
                  labelpad=1)
    for s in ax.spines.values():
        s.set_color(FRAME)
        s.set_linewidth(0.8)


# ---- panel a
for c in (0, 1):
    locus(c, 0, [('navy', gwas_navy), ('lblue', gwas_lblue), ('orange', gwas_orange), ('red', gwas_red)],
          gwas_lead, 'rs11959928', (39.402, 20.9), 7.5)
r2_legend(300, 323, 3, 60)
r2_legend(722, 745, 3, 58)

locus(0, 1, [('navy', kd_navy), ('lblue', kd_lblue), ('green', kd_green), ('orange', kd_orange)],
      kd_lead, 'rs10461725', (39.412, 4.0), 5.48, 'DAB2', 8.4)
locus(1, 1, [('navy', kc_navy), ('gray', kc_gray), ('lblue', kc_lblue), ('red', kc_red)],
      kc_lead, 'rs10043562', (39.390, 5.08), 5.53, 'C9', 8.4)
locus(0, 2, [('navy', td_navy), ('gray', td_gray), ('lblue', td_lblue), ('orange', td_orange),
             ('green', td_green), ('red', td_red)],
      td_lead, 'rs6882168', (39.424, 9.13), 5.33, 'DAB2', 8.55)
locus(1, 2, [('navy', tc_navy), ('gray', tc_gray), ('lblue', tc_lblue)],
      tc_lead, None, None, 5.42, 'C9', 8.25)
locus(0, 3, [('gray', gd_gray)], gd_lead, 'rs140831027', (39.524, 2.2), 5.19, 'DAB2', 8.0)
locus(1, 3, [('gray', gc_gray)], gc_lead, 'rs374844496', (39.525, 2.63), 5.2, 'C9', 8.16)
gene_track(0)
gene_track(1)

mid = [('CKD\nGWAS', 93), ('Whole kideny\neQTL', 273), ('Tubule\neQTL', 459), ('Glomerulus\neQTL', 655)]
for txt, yy in mid:
    fig.text(400 / W, 1 - yy / H, txt, ha='center', va='center', fontsize=8.6, family=OPEN,
             linespacing=1.25)

fig.text(8 / W, 1 - 10 / H, 'a', fontsize=17, fontweight='bold', va='center', ha='left')
fig.text(8 / W, 1 - 790 / H, 'b', fontsize=17, fontweight='bold', va='center', ha='left')


# ---- panel b
def box_panel(x0, summ, outs, title, tx, ptxt, ptx, ty):
    ax = fig.add_axes(px(x0, 810, x0 + 180, 948))
    stats = [dict(whislo=a, q1=b, med=c, q3=d, whishi=e, fliers=f)
             for (a, b, c, d, e), f in zip(summ, outs)]
    bp = ax.bxp(stats, positions=[0, 1, 2], widths=0.82, patch_artist=True, showcaps=False,
                boxprops=dict(edgecolor='#333333', linewidth=1.3),
                whiskerprops=dict(color='#333333', linewidth=1.3),
                medianprops=dict(color='#262626', linewidth=2.6),
                flierprops=dict(marker='o', markerfacecolor='black', markeredgecolor='black',
                                markersize=2))
    for patch, col in zip(bp['boxes'], BOX_COLORS):
        patch.set_facecolor(col)
    ax.set_xlim(-0.6, 2.75)
    ax.set_ylim(-2.9, 2.9)
    ax.set_yticks([-2, -1, 0, 1, 2])
    ax.set_xticks([0, 1, 2])
    ax.set_xticklabels(genotypes)
    ax.tick_params(labelsize=6.8, length=2, width=1, pad=1.5, colors='#222222')
    for t in ax.get_xticklabels() + ax.get_yticklabels():
        t.set_family(OPEN)
    ax.set_xlabel('rs11959928 genotype', fontsize=7.5, family=OPEN, labelpad=0, color='#333333')
    ax.set_ylabel('Normalized Gene Expression', fontsize=6.0, family=OPEN, color='#333333')
    ax.yaxis.set_label_coords(-0.093, 0.5)
    for side in ('top', 'right'):
        ax.spines[side].set_visible(False)
    for side in ('left', 'bottom'):
        ax.spines[side].set_linewidth(1.7)
    fig.text(tx / W, 1 - ty / H, title, fontsize=8.5, family=OPEN, va='center', ha='left')
    fig.text(ptx / W, 1 - (ty + 16) / H, ptxt, fontsize=8.5, family=OPEN, va='center', ha='left')


box_panel(22, dab2_tub, dab2_tub_out, 'DAB2  (tubule)', 27, 'P = 3.524\u00d710$^{\u2009-6}$', 27, 806)
box_panel(222, dab2_glom, dab2_glom_out, 'DAB2  (glom)', 224, 'P = 0.657', 233, 806)
box_panel(429, c9_tub, c9_tub_out, 'C9  (tubule)', 436, 'P = 0.151', 440, 809)
box_panel(628, c9_glom, c9_glom_out, 'C9  (glom)', 715, 'P = 0.488', 715, 807)

fig.savefig('out.png', dpi=100)
